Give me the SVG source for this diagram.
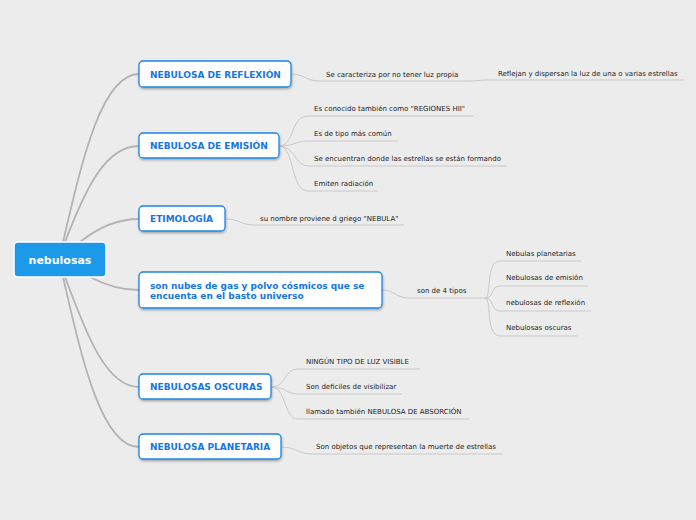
<svg xmlns="http://www.w3.org/2000/svg" width="696" height="520" viewBox="0 0 696 520">
<defs>
<filter id="sh" x="-10%" y="-20%" width="120%" height="150%"><feDropShadow dx="0.5" dy="1.5" stdDeviation="0.8" flood-color="#000" flood-opacity="0.3"/></filter>
</defs>
<style>
.main{stroke:#b3b3b3;stroke-width:1.8;fill:none;stroke-linecap:round}
.sub{stroke:#c9c9c9;stroke-width:1;fill:none}
.box{fill:#fff;stroke:#1a86e4;stroke-width:1.3;filter:url(#sh)}
.nt{font-family:"DejaVu Sans",Verdana,sans-serif;font-weight:bold;font-size:9px;fill:#1676e0}
.ct{font-family:"DejaVu Sans",Verdana,sans-serif;font-size:7px;fill:#222}
</style>
<rect width="696" height="520" fill="#ececec"/>
<g id="connectors">
<path class="main" d="M63,242 C80,170 100,74 139,74"/>
<path class="main" d="M65,242 C85,190 105,146 139,146"/>
<path class="main" d="M80,242 C95,230 115,219 139,219"/>
<path class="main" d="M90,277 C105,285 120,290 139,290"/>
<path class="main" d="M65,277 C85,330 105,387 139,387"/>
<path class="main" d="M63,277 C80,350 100,447 139,447"/>
<path class="sub" d="M291,74 C305,74 305,81 320,81 L465,81 C478,81 478,80 490,80 L684,80"/>
<path class="sub" d="M279,146 C295,146 290,116 308,116 L474,116"/>
<path class="sub" d="M279,146 C295,146 295,141 308,141 L398,141"/>
<path class="sub" d="M279,146 C295,146 295,166 308,166 L507,166"/>
<path class="sub" d="M279,146 C295,146 290,191 308,191 L378,191"/>
<path class="sub" d="M225,219 C240,219 240,225 255,225 L404,225"/>
<path class="sub" d="M382,290 C395,290 395,298 410,298 L485,298"/>
<path class="sub" d="M485,298 C492,298 485,261 500,261 L581,261"/>
<path class="sub" d="M485,298 C495,298 490,286 500,286 L588,286"/>
<path class="sub" d="M485,298 C495,298 490,311 500,311 L591,311"/>
<path class="sub" d="M485,298 C492,298 485,336 500,336 L577,336"/>
<path class="sub" d="M271,387 C287,387 283,369 298,369 L420,369"/>
<path class="sub" d="M271,387 C287,387 285,394 298,394 L402,394"/>
<path class="sub" d="M271,387 C287,387 283,419 298,419 L469,419"/>
<path class="sub" d="M281,447 C297,447 297,454 312,454 L503,454"/>
</g>
<g id="root">
<rect x="14" y="242" width="92" height="35" rx="4" fill="#1c99e8" stroke="#fff" stroke-width="1.5"/>
<text x="60" y="264" text-anchor="middle" font-family="DejaVu Sans,Verdana,sans-serif" font-weight="bold" font-size="11px" fill="#fff">nebulosas</text>
</g>
<g id="n1"><rect class="box" x="139" y="61" width="152" height="26" rx="4"/><text class="nt" x="150" y="78">NEBULOSA DE REFLEXIÓN</text></g>
<g id="n2"><rect class="box" x="139" y="133" width="140" height="25" rx="4"/><text class="nt" x="150" y="149">NEBULOSA DE EMISIÓN</text></g>
<g id="n3"><rect class="box" x="139" y="206" width="86" height="25" rx="4"/><text class="nt" x="150" y="222">ETIMOLOGÍA</text></g>
<g id="n4"><rect class="box" x="139" y="272" width="243" height="36" rx="4"/><text class="nt" x="150" y="289" font-size="8.8px">son nubes de gas y polvo cósmicos que se</text><text class="nt" x="150" y="299" font-size="8.8px">encuenta en el basto universo</text></g>
<g id="n5"><rect class="box" x="139" y="374" width="132" height="25" rx="4"/><text class="nt" x="150" y="390">NEBULOSAS OSCURAS</text></g>
<g id="n6"><rect class="box" x="139" y="434" width="142" height="25" rx="4"/><text class="nt" x="150" y="450">NEBULOSA PLANETARIA</text></g>
<g id="c1"><text class="ct" x="326" y="77">Se caracteriza por no tener luz propia</text></g>
<g id="c1a"><text class="ct" x="498" y="76">Reflejan y dispersan la luz de una o varias estrellas</text></g>
<g id="c2"><text class="ct" x="314" y="111">Es conocido también como "REGIONES HII"</text></g>
<g id="c3"><text class="ct" x="314" y="136">Es de tipo más común</text></g>
<g id="c4"><text class="ct" x="314" y="161">Se encuentran donde las estrellas se están formando</text></g>
<g id="c5"><text class="ct" x="314" y="186">Emiten radiación</text></g>
<g id="c6"><text class="ct" x="260" y="221">su nombre proviene d griego "NEBULA"</text></g>
<g id="c7"><text class="ct" x="417" y="293">son de 4 tipos</text></g>
<g id="c8"><text class="ct" x="506" y="256">Nebulas planetarias</text></g>
<g id="c9"><text class="ct" x="506" y="280">Nebulosas de emisión</text></g>
<g id="c10"><text class="ct" x="506" y="305">nebulosas de reflexión</text></g>
<g id="c11"><text class="ct" x="506" y="330">Nebulosas oscuras</text></g>
<g id="c12"><text class="ct" x="306" y="364">NINGÚN TIPO DE LUZ VISIBLE</text></g>
<g id="c13"><text class="ct" x="306" y="389">Son deficiles de visibilizar</text></g>
<g id="c14"><text class="ct" x="306" y="414">llamado también NEBULOSA DE ABSORCIÓN</text></g>
<g id="c15"><text class="ct" x="316" y="449">Son objetos que representan la muerte de estrellas</text></g>
</svg>
